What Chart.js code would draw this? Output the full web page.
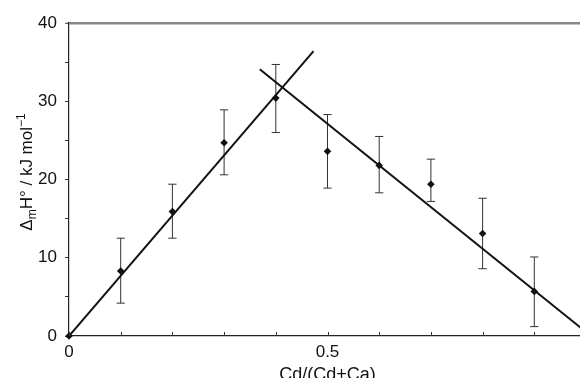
<!DOCTYPE html>
<html>
<head>
<meta charset="utf-8">
<script src="https://cdn.jsdelivr.net/npm/chart.js@4"></script>
<style>
  html, body { margin: 0; padding: 0; background: #fff; overflow: hidden; }
  #wrap { position: absolute; left: 0; top: 0; width: 600px; height: 392px; }
</style>
</head>
<body>
<div id="wrap"><canvas id="chart" width="600" height="392"></canvas></div>
<script>
// mole fraction Cd/(Cd+Ca)
const fraction = [0, 0.1, 0.2, 0.3, 0.4, 0.5, 0.6, 0.7, 0.8, 0.9];
// ΔmH° in kJ/mol, with error bar limits
const enthalpy = [0, 8.3, 15.9, 24.7, 30.4, 23.6, 21.8, 19.4, 13.1, 5.7];
const errHigh = [null, 12.5, 19.4, 28.9, 34.7, 28.3, 25.5, 22.6, 17.6, 10.1];
const errLow = [null, 4.2, 12.5, 20.6, 26.0, 18.9, 18.3, 17.2, 8.6, 1.2];

// the two fitted straight lines (end points)
const riseX = [0, 0.473];
const riseY = [0, 36.4];
const fallX = [0.369, 1.0];
const fallY = [34.1, 0.5];

const xTickLabels = { 0: "0", 0.5: "0.5" };
const yTickLabels = [0, 10, 20, 30, 40];

const ink = "#111";
const fontFamily = "'Liberation Sans', Arial, sans-serif";

// error bars: vertical stroke + caps, separated by gaps
const capHalf = 0.008;
const errData = [];
fraction.forEach((x, i) => {
    if (errHigh[i] == null) return;
    errData.push({ x: x, y: errLow[i] }, { x: x, y: errHigh[i] }, { x: x, y: null });
    errData.push({ x: x - capHalf, y: errHigh[i] }, { x: x + capHalf, y: errHigh[i] }, { x: x, y: null });
    errData.push({ x: x - capHalf, y: errLow[i] }, { x: x + capHalf, y: errLow[i] }, { x: x, y: null });
});

const toXY = (xs, ys) => xs.map((x, i) => ({ x: x, y: ys[i] }));

// axis titles (y one has sub/superscript) and inward x ticks
const extrasPlugin = {
    id: "extras",
    afterDraw(chart) {
        const ctx = chart.ctx;
        const xs = chart.scales.x;
        const area = chart.chartArea;

        // small ticks pointing up from the x axis
        ctx.save();
        ctx.strokeStyle = "#333";
        ctx.lineWidth = 1;
        xs.ticks.forEach(t => {
            const px = Math.round(xs.getPixelForValue(t.value)) + 0.5;
            ctx.beginPath();
            ctx.moveTo(px, area.bottom);
            ctx.lineTo(px, area.bottom - 4);
            ctx.stroke();
        });
        ctx.restore();

        const big = "17px " + fontFamily;
        const small = "12px " + fontFamily;
        const parts = [
            { t: "\u0394", f: big, dy: 0 },
            { t: "m", f: small, dy: 4 },
            { t: "H\u00b0 / kJ mol", f: big, dy: 0 },
            { t: "\u22121", f: small, dy: -7 }
        ];
        ctx.save();
        let total = 0;
        parts.forEach(p => { ctx.font = p.f; p.w = ctx.measureText(p.t).width; total += p.w; });
        ctx.translate(32, 172);
        ctx.rotate(-Math.PI / 2);
        ctx.fillStyle = ink;
        ctx.textBaseline = "alphabetic";
        let x = -total / 2;
        parts.forEach(p => {
            ctx.font = p.f;
            ctx.fillText(p.t, x, p.dy);
            x += p.w;
        });
        ctx.restore();

        // x title, partly cut by the bottom of the page
        ctx.save();
        ctx.font = "18px " + fontFamily;
        ctx.fillStyle = ink;
        ctx.textAlign = "center";
        ctx.textBaseline = "alphabetic";
        ctx.fillText("Cd/(Cd+Ca)", xs.getPixelForValue(0.5), 380);
        ctx.restore();
    }
};

new Chart(document.getElementById("chart"), {
    type: "scatter",
    data: {
        datasets: [
            {
                label: "data",
                data: toXY(fraction, enthalpy),
                pointStyle: "rectRot",
                pointRadius: 3.8,
                backgroundColor: ink,
                borderColor: ink,
                borderWidth: 0,
                clip: false,
                order: 0
            },
            {
                label: "error",
                data: errData,
                showLine: true,
                spanGaps: false,
                pointRadius: 0,
                borderColor: "#333",
                borderWidth: 1,
                order: 3
            },
            {
                label: "rise",
                data: toXY(riseX, riseY),
                showLine: true,
                pointRadius: 0,
                borderColor: ink,
                borderWidth: 2,
                order: 1
            },
            {
                label: "fall",
                data: toXY(fallX, fallY),
                showLine: true,
                pointRadius: 0,
                borderColor: ink,
                borderWidth: 2,
                order: 1
            }
        ]
    },
    options: {
        responsive: false,
        animation: false,
        layout: { padding: { top: 23, right: 14, left: 0, bottom: 0 } },
        plugins: { legend: { display: false }, tooltip: { enabled: false } },
        scales: {
            x: {
                type: "linear",
                min: 0,
                max: 1,
                afterFit: s => { s.height = 56; },
                border: { color: "#222", width: 1.2 },
                grid: { drawOnChartArea: false, drawTicks: false },
                ticks: {
                    stepSize: 0.1,
                    padding: 6,
                    color: ink,
                    font: { family: fontFamily, size: 17 },
                    maxRotation: 0,
                    autoSkip: false,
                    callback: v => xTickLabels[Math.round(v * 10) / 10] || ""
                }
            },
            y: {
                min: 0,
                max: 40,
                afterFit: s => { s.width = 69; },
                border: { color: "#222", width: 1.2 },
                grid: {
                    color: c => c.tick && c.tick.value === 40 ? "#888" : "rgba(0,0,0,0)",
                    lineWidth: c => c.tick && c.tick.value === 40 ? 2.5 : 1,
                    tickLength: 4,
                    tickColor: "#333",
                    tickWidth: 1
                },
                ticks: {
                    stepSize: 5,
                    padding: 8,
                    color: ink,
                    font: { family: fontFamily, size: 17 },
                    callback: v => yTickLabels.includes(v) ? String(v) : ""
                }
            }
        }
    },
    plugins: [extrasPlugin]
});
</script>
</body>
</html>
